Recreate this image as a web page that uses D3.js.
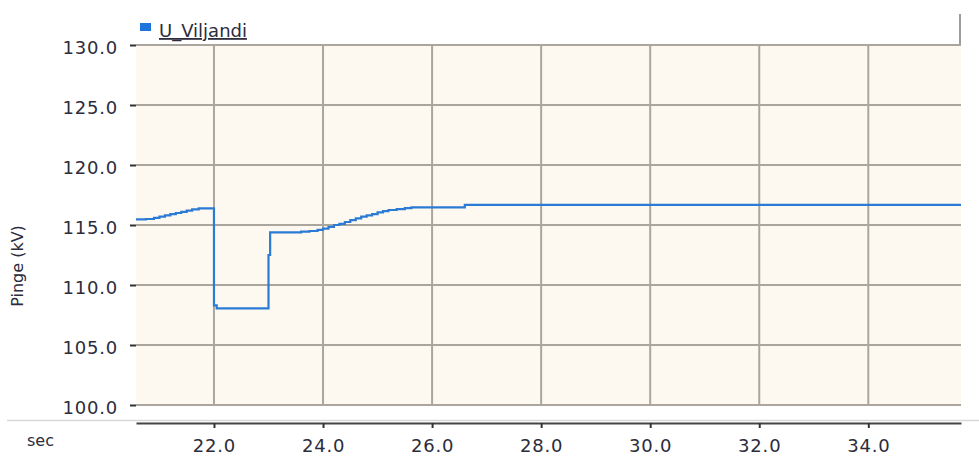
<!DOCTYPE html>
<html><head><meta charset="utf-8">
<script src="https://cdn.jsdelivr.net/npm/d3@7/dist/d3.min.js"></script>
<style>body{margin:0;background:#fff;}svg{display:block;}</style>
</head><body><svg id="c" width="979" height="456"></svg>
<script>
const seriesName = "U_Viljandi";
const yLabel = "Pinge (kV)";
const xLabel = "sec";
const xTicks = [22, 24, 26, 28, 30, 32, 34];
const yTicks = [100, 105, 110, 115, 120, 125, 130];
const times = [20.57, 20.75, 20.9, 21.0, 21.1, 21.2, 21.3, 21.4, 21.5, 21.6, 21.72, 22.0, 22.05,
  23.0, 23.03, 23.6, 23.75, 23.9, 24.0, 24.1, 24.2, 24.3, 24.4, 24.5, 24.6, 24.7, 24.8, 24.9,
  25.0, 25.1, 25.2, 25.35, 25.5, 25.62, 26.6, 35.7];
const volts = [115.47, 115.5, 115.6, 115.7, 115.8, 115.9, 116.0, 116.1, 116.2, 116.3, 116.39, 108.3, 108.05,
  112.5, 114.38, 114.45, 114.5, 114.6, 114.7, 114.85, 115.0, 115.1, 115.25, 115.4, 115.55, 115.7, 115.8, 115.9,
  116.05, 116.15, 116.25, 116.33, 116.4, 116.47, 116.67, 116.67];

const svg = d3.select("#c");
const L = 136, R = 961, T = 45, B = 405;
const x = d3.scaleLinear().domain([20.57, 35.7]).range([L, R]);
const y = d3.scaleLinear().domain([100, 130]).range([B, T]);
const font = "'DejaVu Sans', Verdana, sans-serif";
const txt = "#2c2c3c";

// legend box
svg.append("line").attr("x1", R - 1).attr("x2", R - 1).attr("y1", 14).attr("y2", T)
  .attr("stroke", "#9c9c9c").attr("stroke-width", 2);
// plot bg
svg.append("rect").attr("x", L).attr("y", T).attr("width", R - L).attr("height", B - T).attr("fill", "#fdf9f0");

// grid
svg.append("g").selectAll("line").data(yTicks).join("line")
  .attr("x1", L).attr("x2", R).attr("y1", d => y(d)).attr("y2", d => y(d))
  .attr("stroke", "#aaa69e").attr("stroke-width", 2);
svg.append("g").selectAll("line").data(xTicks).join("line")
  .attr("x1", d => x(d)).attr("x2", d => x(d)).attr("y1", T).attr("y2", B)
  .attr("stroke", "#aaa69e").attr("stroke-width", 2);

// y axis
const ya = svg.append("g").attr("transform", `translate(${L},0)`)
  .call(d3.axisLeft(y).tickValues(yTicks).tickFormat(d3.format(".1f")).tickSize(6).tickPadding(12));
ya.select(".domain").remove();
ya.selectAll(".tick line").attr("stroke", "#333").attr("stroke-width", 2);
ya.selectAll("text").attr("font-family", font).attr("font-size", 18).attr("fill", txt)
  .attr("letter-spacing", "0.8px").attr("dy", "0.45em");

// separator line
svg.append("line").attr("x1", 7).attr("x2", 979).attr("y1", 420.5).attr("y2", 420.5)
  .attr("stroke", "#d8d8d8").attr("stroke-width", 1.5);

// x axis
const xa = svg.append("g").attr("transform", `translate(0,423)`)
  .call(d3.axisBottom(x).tickValues(xTicks).tickFormat(d3.format(".1f")).tickSize(5).tickSizeOuter(0).tickPadding(11));
xa.select(".domain").attr("stroke", "#444").attr("stroke-width", 2);
xa.selectAll(".tick line").attr("stroke", "#333").attr("stroke-width", 2);
xa.selectAll("text").attr("font-family", font).attr("font-size", 18).attr("fill", txt)
  .attr("letter-spacing", "0.8px");

svg.append("text").attr("x", 27).attr("y", 446).text(xLabel)
  .attr("font-family", font).attr("font-size", 16).attr("fill", txt);
svg.append("text").attr("transform", "translate(23,266) rotate(-90)").attr("text-anchor", "middle")
  .text(yLabel).attr("font-family", font).attr("font-size", 16).attr("fill", txt);

// line
const data = times.map((t, i) => ({t, v: volts[i]}));
svg.append("path").datum(data)
  .attr("d", d3.line().x(d => x(d.t)).y(d => y(d.v)).curve(d3.curveStepAfter))
  .attr("fill", "none").attr("stroke", "#2b7bd6").attr("stroke-width", 2.2);

// legend
svg.append("rect").attr("x", 140).attr("y", 23).attr("width", 11).attr("height", 8).attr("fill", "#1f74dc");
svg.append("text").attr("x", 159).attr("y", 37).text(seriesName)
  .attr("font-family", font).attr("font-size", 18).attr("fill", txt)
  .attr("text-decoration", "underline");
</script></body></html>
